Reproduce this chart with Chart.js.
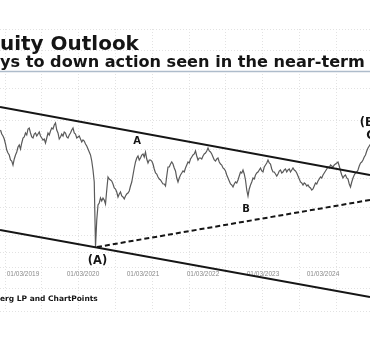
<!DOCTYPE html>
<html>
<head>
<meta charset="utf-8">
<script src="https://cdn.jsdelivr.net/npm/chart.js@4/dist/chart.umd.min.js"></script>
<style>
  html, body { margin: 0; padding: 0; background: #ffffff; }
  canvas { display: block; }
</style>
</head>
<body>
<canvas id="c" width="370" height="355"></canvas>
<script>
// ---- Data ----
// x axis: months since 01/03/2019; price series sampled every quarter month
const startMonth = -4.5;
const stepMonths = 0.25;
const priceValues = [
  170,166,164,161,156,150,147,145,140,139,135,141,145,148,153,155,151,157,162,163,
  167,165,171,172,167,163,162,166,167,164,166,168,164,162,160,161,157,162,167,165,
  169,172,171,175,177,170,167,161,163,166,164,168,167,163,162,165,167,170,172,167,
  166,162,163,164,161,158,160,159,156,154,151,148,145,139,130,118,53,80,95,97,
  102,99,102,100,96,110,123,121,120,119,116,112,111,108,103,106,108,104,103,101,
  104,106,107,109,114,118,125,132,138,142,144,140,142,145,146,143,148,141,137,140,
  140,139,136,131,127,126,123,121,120,118,116,116,114,124,133,133,136,138,136,132,
  129,122,118,122,125,127,129,128,132,135,138,137,141,143,145,146,149,144,140,142,
  142,141,144,146,147,149,152,149,148,146,143,140,139,141,142,138,136,135,132,131,
  129,125,122,119,116,115,113,116,118,117,120,124,128,127,130,126,120,110,104,111,
  115,118,122,121,125,127,128,130,132,129,128,133,135,137,140,137,136,131,128,128,
  126,124,126,129,130,127,128,130,131,128,130,131,128,130,132,130,129,127,124,121,
  118,117,115,117,116,114,115,113,112,110,111,114,117,116,119,121,123,122,125,127,
  129,131,133,132,135,134,133,135,136,137,138,134,129,125,122,124,125,122,121,116,
  113,118,122,125,127,128,130,134,137,138,140,143,145,149,152,154,156
];
const upperTrend = [{x: -4.6, y: 193}, {x: 69.4, y: 125}];
const lowerTrend = [{x: -4.6, y: 70}, {x: 69.4, y: 3}];
const supportTrend = [{x: 14.8, y: 53}, {x: 69.4, y: 100}];
const tickMonths = [0, 12, 24, 36, 48, 60];
const tickLabels = ['01/03/2019','01/03/2020','01/03/2021','01/03/2022','01/03/2023','01/03/2024'];
const annotTexts = ['A', 'B', '(A)', '(B)', 'C'];
const annotX = [22.8, 44.6, 14.9, 69.3, 69.5];
const annotY = [159, 90.5, 39, 177, 164];
const annotSize = [10, 10, 11.5, 11.5, 11.5];

const titleText = 'uity Outlook';
const subtitleText = 'ys to down action seen in the near-term';
const footerText = 'erg LP and ChartPoints';

const pricePoints = priceValues.map((v, i) => ({x: startMonth + i * stepMonths, y: v}));

function fitFont(ctx, text, target, base) {
  ctx.font = 'bold ' + base + 'px "DejaVu Sans"';
  const w = ctx.measureText(text).width;
  return base * target / w;
}

const bgGrid = {
  id: 'bgGrid',
  beforeDraw(chart) {
    const ctx = chart.ctx;
    ctx.save();
    ctx.strokeStyle = '#e2e2e2';
    ctx.lineWidth = 1;
    ctx.setLineDash([1, 2]);
    for (let k = 0; k < 11; k++) {
      const x = Math.round(4.5 + 36.8 * k) + 0.5;
      ctx.beginPath(); ctx.moveTo(x, 29); ctx.lineTo(x, 311); ctx.stroke();
    }
    [29, 50, 88, 120, 149, 178, 207, 235, 252, 267, 288, 311].forEach(y => {
      ctx.beginPath(); ctx.moveTo(0, y + 0.5); ctx.lineTo(370, y + 0.5); ctx.stroke();
    });
    ctx.restore();
  }
};

const texts = {
  id: 'texts',
  afterDraw(chart) {
    const ctx = chart.ctx;
    ctx.save();
    ctx.fillStyle = '#151515';
    ctx.textAlign = 'left';
    ctx.textBaseline = 'alphabetic';
    let s = fitFont(ctx, titleText, 139, 18);
    ctx.font = 'bold ' + s + 'px "DejaVu Sans"';
    ctx.fillText(titleText, 0, 50);
    s = fitFont(ctx, subtitleText, 365, 14);
    ctx.font = 'bold ' + s + 'px "DejaVu Sans"';
    ctx.fillText(subtitleText, 0, 67);
    s = fitFont(ctx, footerText, 98, 9);
    ctx.font = 'bold ' + s + 'px "DejaVu Sans"';
    ctx.fillText(footerText, 0, 301);
    // rule under subtitle
    ctx.strokeStyle = '#aebccb';
    ctx.lineWidth = 1.5;
    ctx.beginPath(); ctx.moveTo(0, 71.5); ctx.lineTo(370, 71.5); ctx.stroke();
    // annotations
    const xs = chart.scales.x, ys = chart.scales.y;
    ctx.textAlign = 'center';
    ctx.textBaseline = 'middle';
    annotTexts.forEach((t, i) => {
      ctx.font = 'bold ' + annotSize[i] + 'px "DejaVu Sans"';
      ctx.fillText(t, xs.getPixelForValue(annotX[i]), ys.getPixelForValue(annotY[i]));
    });
    ctx.restore();
  }
};

new Chart(document.getElementById('c'), {
  type: 'line',
  data: {
    datasets: [
      { data: pricePoints, borderColor: '#5a5a5a', borderWidth: 1.2, pointRadius: 0, tension: 0, clip: false, order: 3 },
      { data: upperTrend, borderColor: '#161616', borderWidth: 2, pointRadius: 0, clip: false, order: 1 },
      { data: lowerTrend, borderColor: '#161616', borderWidth: 2, pointRadius: 0, clip: false, order: 1 },
      { data: supportTrend, borderColor: '#161616', borderWidth: 2, borderDash: [5, 3], pointRadius: 0, clip: false, order: 2 }
    ]
  },
  options: {
    responsive: false,
    devicePixelRatio: 1,
    animation: false,
    layout: { padding: { left: 0, right: 0, top: 0, bottom: 77 } },
    plugins: { legend: { display: false }, tooltip: { enabled: false }, title: { display: false } },
    scales: {
      x: {
        type: 'linear',
        min: -4.6, max: 69.4,
        afterFit(scale) { scale.height = 10; },
        afterBuildTicks(scale) { scale.ticks = tickMonths.map(v => ({value: v})); },
        grid: { display: false, drawTicks: false },
        border: { display: false },
        ticks: {
          autoSkip: false, maxRotation: 0, minRotation: 0, padding: 2,
          color: '#8a8a8a',
          font: { family: '"Liberation Sans"', size: 6.5 },
          callback(v) { const i = tickMonths.indexOf(v); return i >= 0 ? tickLabels[i] : ''; }
        }
      },
      y: { type: 'linear', display: false, min: 32, max: 300 }
    }
  },
  plugins: [bgGrid, texts]
});
</script>
</body>
</html>
